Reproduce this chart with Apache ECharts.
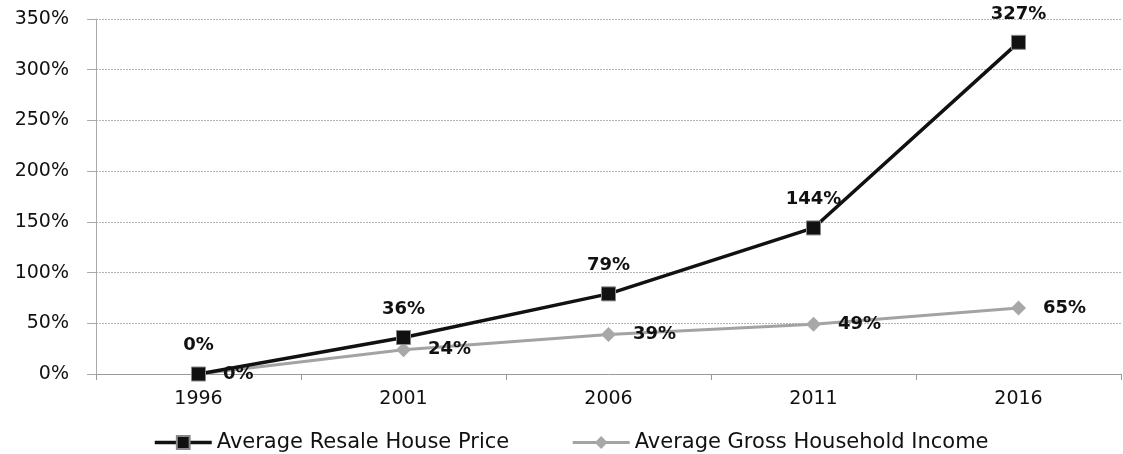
<!DOCTYPE html>
<html><head><meta charset="utf-8">
<script src="https://cdn.jsdelivr.net/npm/echarts@6/dist/echarts.min.js"></script>
<style>html,body{margin:0;padding:0;background:#fff}#c{width:1123px;height:454px}</style>
</head><body><div id="c"></div>
<script>
const years = ['1996','2001','2006','2011','2016'];
const housePrice = [0, 36, 79, 144, 327];
const income = [0, 24, 39, 49, 65];
const seriesNames = ['Average Resale House Price','Average Gross Household Income'];
const font = '"DejaVu Sans", Verdana, sans-serif';
const chart = echarts.init(document.getElementById('c'));
chart.setOption({
  animation:false,
  backgroundColor:'#fff',
  grid:{left:96,right:2,top:19,bottom:80},
  legend:{
    top:427, left:148, itemWidth:57, itemHeight:16, itemGap:62,
    textStyle:{fontFamily:font,fontSize:21,color:'#111'},
    data:[
      {name:seriesNames[0], lineStyle:{width:3.5}},
      {name:seriesNames[1], lineStyle:{width:3}}
    ]
  },
  xAxis:{
    type:'category', data:years, boundaryGap:true,
    axisLine:{lineStyle:{color:'#999',width:1}},
    axisTick:{show:true,length:6,lineStyle:{color:'#999'}},
    axisLabel:{fontFamily:font,fontSize:19,color:'#111',margin:16}
  },
  yAxis:{
    type:'value', min:0, max:350, interval:50,
    axisLine:{show:true,lineStyle:{color:'#aaa'}},
    axisTick:{show:true,length:9,inside:false,lineStyle:{color:'#aaa'}},
    splitLine:{lineStyle:{color:'#b5b5b5',type:[2,1],width:1}},
    axisLabel:{fontFamily:font,fontSize:19,color:'#111',margin:27,formatter:'{value}%'}
  },
  series:[
    {
      name:seriesNames[0], type:'line', data:housePrice, z:3,
      symbol:'rect', symbolSize:14,
      lineStyle:{color:'#111',width:3.5},
      itemStyle:{color:'#111',borderColor:'#888',borderWidth:1},
      label:{show:true,position:'top',distance:12,formatter:'{c}%',
        fontFamily:font,fontSize:18,fontWeight:'bold',color:'#111'}
    },
    {
      name:seriesNames[1], type:'line', data:income, z:2,
      symbol:'diamond', symbolSize:15,
      lineStyle:{color:'#a3a3a3',width:3},
      itemStyle:{color:'#a8a8a8'},
      label:{show:true,position:'right',distance:17,formatter:'{c}%',
        fontFamily:font,fontSize:18,fontWeight:'bold',color:'#111'}
    }
  ]
});
</script></body></html>
